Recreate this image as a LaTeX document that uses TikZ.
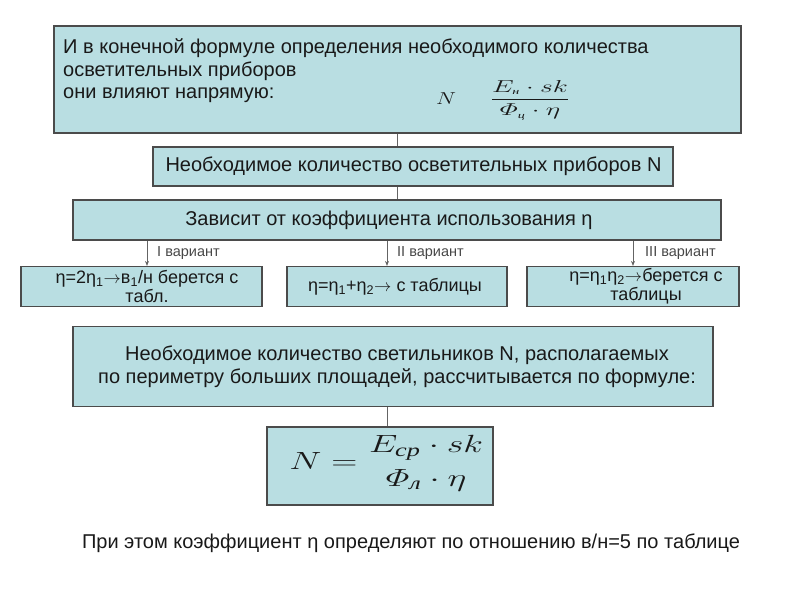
\documentclass[tikz,border=0pt]{standalone}
\usepackage{amsmath}
\usepackage{graphicx}
\usepackage{fontspec}
\setmainfont{Liberation Sans}
\newfontfamily\serifcyr{Liberation Serif}
\usetikzlibrary{arrows.meta}
\definecolor{boxfill}{RGB}{185,222,226}
\definecolor{boxline}{RGB}{75,75,75}
\definecolor{conn}{RGB}{100,100,100}
\definecolor{txt}{RGB}{25,25,25}
\newcommand{\cyrsub}[1]{\text{\scalebox{0.7}{\serifcyr\itshape #1}}}
\newcommand{\rarr}{$\rightarrow$}
\begin{document}
\begin{tikzpicture}[x=1pt,y=-1pt,
  box/.style={draw=boxline,line width=1.2pt,fill=boxfill,inner sep=0pt},
  btext/.style={text=txt,font=\fontsize{20}{23}\selectfont,inner sep=0pt},
  vtext/.style={text=txt,font=\fontsize{18}{19}\selectfont,align=center,inner sep=0pt},
  vlabel/.style={text=txt!80,font=\fontsize{14.5}{16}\selectfont,anchor=west,inner sep=0pt},
  link/.style={draw=conn,line width=0.8pt},
  arr/.style={draw=conn,line width=0.8pt,-{Stealth[length=5pt,width=4pt]}}]
\useasboundingbox (0,0) rectangle (800,600);
% box 1
\node[box,minimum width=687pt,minimum height=107pt] (b1) at (397.5,79.5) {};
\node[btext,anchor=base west] (t1a) at (63,53) {И в конечной формуле определения необходимого количества};
\node[btext,anchor=base west] (t1b) at (63,76) {осветительных приборов};
\node[btext,anchor=base west] (t1c) at (63,98) {они влияют напрямую:};
\node[text=txt,font=\fontsize{18}{20}\selectfont,inner sep=0pt] (f1n) at (446,99) {\scalebox{1.3}[1]{$N$}};
\node[text=txt,font=\fontsize{18}{20}\selectfont,inner sep=0pt] (f1f) at (530,100) {\scalebox{1.6}[1]{$\dfrac{E_{\cyrsub{н}}\cdot sk}{\varPhi_{\cyrsub{ц}}\cdot\eta}$}};
% box 2
\node[box,minimum width=520pt,minimum height=39pt] (b2) at (413,166.5) {};
\node[btext] (t2) at (413.5,166.5) {Необходимое количество осветительных приборов N};
% box 3
\node[box,minimum width=648pt,minimum height=40pt] (b3) at (397,220) {};
\node[btext] (t3) at (389,220) {Зависит от коэффициента использования η};
% variants
\node[box,minimum width=241pt,minimum height=40pt] (v1) at (141.5,286.5) {};
\node[vtext] (tv1) at (147,286.5) {η=2η\textsubscript{1}\rarr в\textsubscript{1}/н берется с\\табл.};
\node[box,minimum width=220pt,minimum height=40pt] (v2) at (397,286.5) {};
\node[vtext] (tv2) at (395,287) {η=η\textsubscript{1}+η\textsubscript{2}\rarr\ с таблицы};
\node[box,minimum width=212pt,minimum height=40pt] (v3) at (633,286.5) {};
\node[vtext] (tv3) at (646,286.5) {η=η\textsubscript{1}η\textsubscript{2}\rarr берется с\\таблицы};
% box 4
\node[box,minimum width=640pt,minimum height=80pt] (b4) at (393,366.5) {};
\node[btext,align=center] (t4) at (397,367) {Необходимое количество светильников N, располагаемых\\по периметру больших площадей, рассчитывается по формуле:};
% box 5
\node[box,minimum width=226pt,minimum height=78pt] (b5) at (380,466) {};
\node[text=txt,font=\fontsize{37}{40}\selectfont,inner sep=0pt] (f2) at (387,463) {\scalebox{1.45}[1]{$N=\genfrac{}{}{0pt}{0}{E_{\cyrsub{ср}}\cdot sk}{\varPhi_{\cyrsub{л}}\cdot\eta}$}};
% bottom text
\node[btext] (t6) at (411,543) {При этом коэффициент η определяют по отношению в/н=5 по таблице};
% connectors
\coordinate (c1) at (397,0);
\coordinate (a1) at (147,0);
\coordinate (a2) at (387,0);
\coordinate (a3) at (633,0);
\coordinate (c5) at (387,0);
\draw[link] (b1.south -| c1) -- (b2.north -| c1);
\draw[link] (b2.south -| c1) -- (b3.north -| c1);
\draw[arr] (b3.south -| a1) -- (v1.north -| a1);
\draw[arr] (b3.south -| a2) -- (v2.north -| a2);
\draw[arr] (b3.south -| a3) -- (v3.north -| a3);
\draw[link] (b4.south -| c5) -- (b5.north -| c5);
\node[vlabel] (l1) at (157,253) {I вариант};
\node[vlabel] (l2) at (397,253) {II вариант};
\node[vlabel] (l3) at (645,253) {III вариант};
\end{tikzpicture}
\end{document}
